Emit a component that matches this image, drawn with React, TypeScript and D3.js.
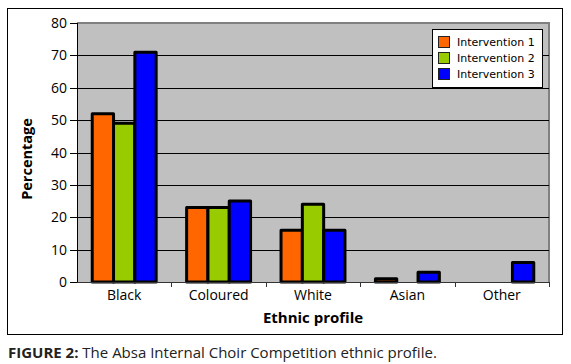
import React from 'react';
import * as d3 from 'd3';

const categories = ['Black', 'Coloured', 'White', 'Asian', 'Other'];
const seriesNames = ['Intervention 1', 'Intervention 2', 'Intervention 3'];
const intervention1 = [52, 23, 16, 1, 0];
const intervention2 = [49, 23, 24, 0, 0];
const intervention3 = [71, 25, 16, 3, 6];
const yTicks = [0, 10, 20, 30, 40, 50, 60, 70, 80];
const colors = ['#ff6600', '#99cc00', '#0000ff'];

const W = 571;
const H = 364;
const plot = { left: 77, top: 23, right: 549, bottom: 282 };

const App: React.FC = () => {
  const series = [intervention1, intervention2, intervention3];

  const x = d3.scaleBand<string>()
    .domain(categories)
    .range([plot.left, plot.right])
    .paddingInner(0)
    .paddingOuter(0);

  const xInner = d3.scaleBand<number>()
    .domain([0, 1, 2])
    .range([0, x.bandwidth()])
    .paddingInner(0)
    .paddingOuter(0.715);

  const y = d3.scaleLinear().domain([0, 80]).range([plot.bottom, plot.top]);

  const boundaries = categories.map(c => (x(c) as number) + x.bandwidth());
  const axisFont = '"Open Sans", sans-serif';

  return (
    <svg width={W} height={H} style={{ position: 'absolute', left: 0, top: 0, background: '#fff' }}>
      {/* outer frame */}
      <rect x={7.5} y={8.5} width={555} height={326} fill="none" stroke="#000" strokeWidth={1} />

      {/* plot background */}
      <rect x={plot.left} y={plot.top} width={plot.right - plot.left} height={plot.bottom - plot.top} fill="#c0c0c0" />
      <path
        d={`M${plot.left},${plot.top} H${plot.right} V${plot.bottom}`}
        fill="none" stroke="#808080" strokeWidth={2}
      />

      {/* gridlines */}
      {yTicks.filter(t => t > 0 && t < 80).map(t => (
        <line key={t} x1={plot.left} x2={plot.right} y1={Math.round(y(t)) + 0.5} y2={Math.round(y(t)) + 0.5} stroke="#000" strokeWidth={1} />
      ))}

      {/* bars */}
      {categories.map((c, ci) => (
        <g key={c} transform={`translate(${x(c)},0)`}>
          {series.map((s, si) => s[ci] > 0 && (
            <rect
              key={si}
              x={xInner(si)}
              y={y(s[ci])}
              width={xInner.bandwidth()}
              height={y(0) - y(s[ci])}
              fill={colors[si]}
              stroke="#000"
              strokeWidth={3}
              strokeLinejoin="round"
            />
          ))}
        </g>
      ))}

      {/* y axis */}
      <line x1={plot.left + 0.5} x2={plot.left + 0.5} y1={plot.top} y2={plot.bottom} stroke="#000" strokeWidth={1} />
      {yTicks.map(t => (
        <g key={t}>
          <line x1={plot.left - 7} x2={plot.left} y1={Math.round(y(t)) + 0.5} y2={Math.round(y(t)) + 0.5} stroke="#000" />
          <text x={plot.left - 10} y={y(t) + 5} textAnchor="end" fontFamily={axisFont} fontSize={14} fill="#000">{t}</text>
        </g>
      ))}

      {/* x axis */}
      <line x1={plot.left} x2={plot.right} y1={plot.bottom + 0.5} y2={plot.bottom + 0.5} stroke="#333" strokeWidth={1} />
      {boundaries.map((b, i) => (
        <line key={i} x1={Math.round(b) + 0.5} x2={Math.round(b) + 0.5} y1={plot.bottom} y2={plot.bottom + 5} stroke="#333" />
      ))}
      {categories.map(c => (
        <text key={c} x={(x(c) as number) + x.bandwidth() / 2} y={300} textAnchor="middle" fontFamily={axisFont} fontSize={14} fill="#000">{c}</text>
      ))}

      {/* axis titles */}
      <text x={(plot.left + plot.right) / 2} y={323} textAnchor="middle" fontFamily={axisFont} fontSize={15} fontWeight="bold" fill="#000">Ethnic profile</text>
      <text transform="translate(32,159) rotate(-90)" textAnchor="middle" fontFamily={axisFont} fontSize={14.5} fontWeight="bold" fill="#000">Percentage</text>

      {/* legend */}
      <rect x={432.5} y={29.5} width={110} height={58} fill="#fff" stroke="#000" strokeWidth={1} />
      {seriesNames.map((n, i) => (
        <g key={n} transform={`translate(438,${36 + i * 16})`}>
          <rect x={0.5} y={0.5} width={11} height={11} fill={colors[i]} stroke="#222" strokeWidth={1} />
          <text x={19} y={10} fontFamily='"DejaVu Sans", Verdana, sans-serif' fontSize={11} fill="#000">{n}</text>
        </g>
      ))}

      {/* caption */}
      <text x={8} y={358} fontFamily={axisFont} fontSize={15} fill="#222">
        <tspan fontWeight="bold">FIGURE 2:</tspan>
        <tspan> The Absa Internal Choir Competition ethnic profile.</tspan>
      </text>
    </svg>
  );
};

export default App;
